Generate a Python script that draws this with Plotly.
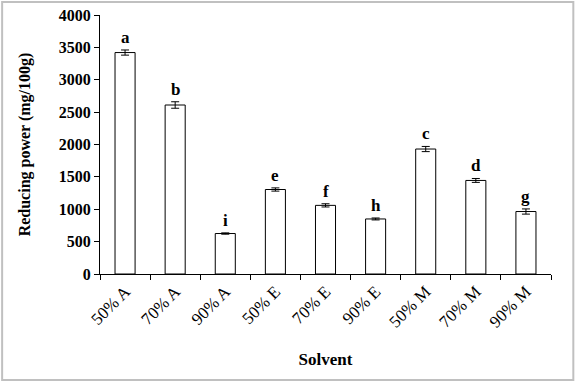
import plotly.graph_objects as go

categories = ["50% A", "70% A", "90% A", "50% E", "70% E", "90% E", "50% M", "70% M", "90% M"]
values = [3420, 2610, 625, 1305, 1060, 850, 1930, 1445, 965]
errors = [40, 50, 10, 25, 25, 15, 40, 30, 40]
letters = ["a", "b", "i", "e", "f", "h", "c", "d", "g"]
y_ticks = [0, 500, 1000, 1500, 2000, 2500, 3000, 3500, 4000]

FONT = "Liberation Serif, Times New Roman, serif"

fig = go.Figure()
fig.add_trace(go.Bar(
    x=categories, y=values,
    marker=dict(color="white", line=dict(color="black", width=1)),
    error_y=dict(type="data", array=errors, visible=True, color="black", thickness=1, width=4),
    width=0.4,
))

for c, v, e, l in zip(categories, values, errors, letters):
    fig.add_annotation(x=c, y=v + e, text="<b>" + l + "</b>", showarrow=False,
                       yanchor="bottom", yshift=1, font=dict(family=FONT, size=17, color="black"))

fig.add_shape(type="rect", xref="paper", yref="paper",
              x0=-0.217, x1=1.0495, y0=-0.409, y1=1.050,
              line=dict(color="#c0c0c0", width=2), fillcolor="rgba(0,0,0,0)")

fig.update_layout(
    width=582, height=385,
    margin=dict(l=100, r=31, t=15, b=111),
    paper_bgcolor="white", plot_bgcolor="white",
    showlegend=False,
    font=dict(family=FONT, color="black"),
    xaxis=dict(
        automargin=False,
        tickson="boundaries", ticks="outside", ticklen=5, tickcolor="black",
        showline=True, linecolor="black", linewidth=1,
        tickangle=-45, tickfont=dict(family=FONT, size=17, color="black"),
        title=dict(text="<b>Solvent</b>", font=dict(family=FONT, size=17), standoff=22),
        showgrid=False,
    ),
    yaxis=dict(
        automargin=False,
        range=[0, 4000], tickvals=y_ticks, ticktext=["<b>%d</b>" % t for t in y_ticks],
        ticks="outside", ticklen=5, tickcolor="black",
        showline=True, linecolor="black", linewidth=1,
        tickfont=dict(family=FONT, size=16, color="black"),
        title=dict(text="<b>Reducing power (mg/100g)</b>", font=dict(family=FONT, size=16), standoff=24),
        showgrid=False, zeroline=False,
    ),
)

fig.write_html("out.html", config={"displayModeBar": False},
               post_script="document.body.style.margin='0';document.body.style.overflow='hidden';")
